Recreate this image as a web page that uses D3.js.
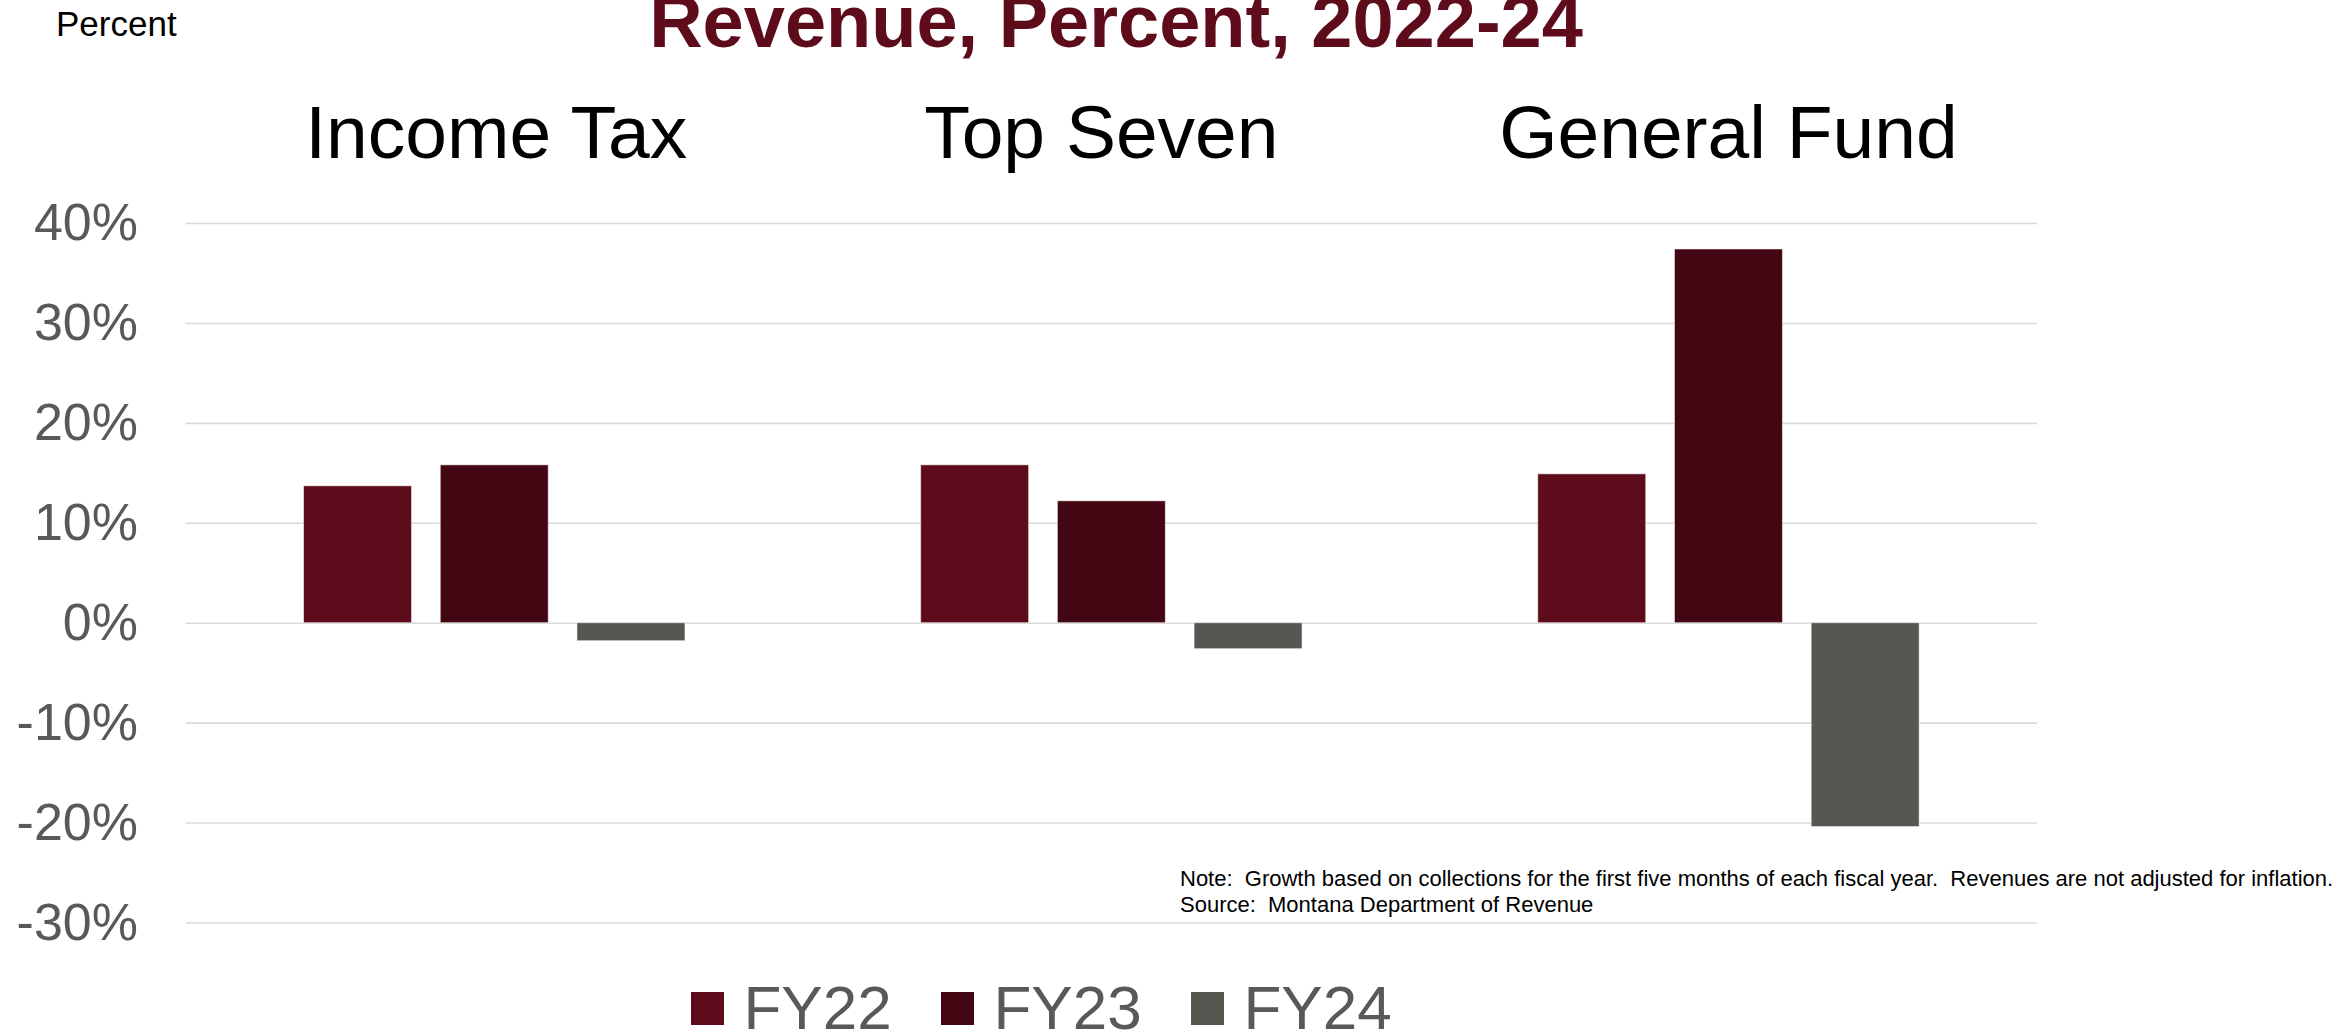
<!DOCTYPE html>
<html>
<head>
<meta charset="utf-8">
<script src="https://cdn.jsdelivr.net/npm/d3@7"></script>
<style>
  html, body { margin: 0; padding: 0; background: #fff; }
  svg { display: block; }
  text { font-family: "Liberation Sans", Arial, sans-serif; }
</style>
</head>
<body>
<svg id="chart" width="2341" height="1033"></svg>
<script>
// ---- data ----
const categories = ["Income Tax", "Top Seven", "General Fund"];
const seriesNames = ["FY22", "FY23", "FY24"];
const fy22 = [13.7, 15.8, 14.9];
const fy23 = [15.8, 12.2, 37.4];
const fy24 = [-1.8, -2.6, -20.4];
const yTicks = [-30, -20, -10, 0, 10, 20, 30, 40];
const titleText = "Revenue, Percent, 2022-24";
const unitLabel = "Percent";
const noteLines = [
  "Note:  Growth based on collections for the first five months of each fiscal year.  Revenues are not adjusted for inflation.",
  "Source:  Montana Department of Revenue"
];
const colors = ["#5e0b1c", "#430714", "#555751"];

const seriesValues = [fy22, fy23, fy24];

(function () {
// ---- layout ----
const svg = d3.select("#chart");
const mLeft = 185.7, mRight = 2037, mTop = 223, mBottom = 922.5;
const titleNudge = [2, -10, 0];

const x0 = d3.scaleBand().domain(categories).range([mLeft, mRight]).padding(0);
const x1 = d3.scaleBand().domain(seriesNames).range([0, x0.bandwidth()])
  .paddingInner(0.21).paddingOuter(0.862);
const y = d3.scaleLinear().domain([-30, 40]).range([mBottom, mTop]);

// gridlines
svg.append("g")
  .attr("transform", `translate(${mLeft},0)`)
  .call(d3.axisLeft(y).tickValues(yTicks).tickSize(-(mRight - mLeft)).tickFormat(""))
  .call(g => g.select(".domain").remove())
  .call(g => g.selectAll("line").attr("stroke", "#d9d9d9").attr("stroke-width", 1.6));

// y tick labels
svg.append("g")
  .attr("transform", `translate(${mLeft},0)`)
  .call(d3.axisLeft(y).tickValues(yTicks).tickSize(0).tickPadding(47.7).tickFormat(d => d + "%"))
  .call(g => g.select(".domain").remove())
  .call(g => g.selectAll("text")
    .attr("fill", "#595959")
    .style("font-size", "52px")
    .style("font-family", "'Liberation Sans', Arial, sans-serif"));

// bars
const rows = [];
categories.forEach((c, i) => {
  seriesNames.forEach((s, j) => rows.push({ cat: c, ser: s, val: seriesValues[j][i], color: colors[j] }));
});

svg.append("g").selectAll("rect")
  .data(rows)
  .join("rect")
  .attr("x", d => x0(d.cat) + x1(d.ser))
  .attr("width", x1.bandwidth())
  .attr("y", d => y(Math.max(0, d.val)))
  .attr("height", d => Math.abs(y(d.val) - y(0)))
  .attr("fill", d => d.color)
  .attr("stroke", "rgba(255,255,255,0.55)")
  .attr("stroke-width", 1);

// panel (category) titles
svg.append("g").selectAll("text")
  .data(categories)
  .join("text")
  .attr("x", (d, i) => x0(d) + x0.bandwidth() / 2 + titleNudge[i])
  .attr("y", 158)
  .attr("text-anchor", "middle")
  .attr("fill", "#000")
  .style("font-size", "75px")
  .text(d => d);

// main title
svg.append("text")
  .attr("x", 1116)
  .attr("y", 46.7)
  .attr("text-anchor", "middle")
  .attr("fill", "#5e0b1c")
  .style("font-size", "74px")
  .style("font-weight", "bold")
  .text(titleText);

// unit label
svg.append("text")
  .attr("x", 56)
  .attr("y", 36)
  .attr("fill", "#000")
  .style("font-size", "35px")
  .text(unitLabel);

// note
svg.append("g").selectAll("text")
  .data(noteLines)
  .join("text")
  .attr("x", 1180)
  .attr("y", (d, i) => 886 + i * 25.7)
  .attr("fill", "#000")
  .style("font-size", "22px")
  .style("white-space", "pre")
  .text(d => d);

// legend
const legend = svg.append("g").selectAll("g")
  .data(seriesNames)
  .join("g")
  .attr("transform", (d, i) => `translate(${691 + i * 250},0)`);
legend.append("rect")
  .attr("x", 0).attr("y", 992)
  .attr("width", 33).attr("height", 33)
  .attr("fill", (d, i) => colors[i]);
legend.append("text")
  .attr("x", 52.5).attr("y", 1029)
  .attr("fill", "#595959")
  .style("font-size", "62px")
  .text(d => d);
})();
</script>
</body>
</html>
